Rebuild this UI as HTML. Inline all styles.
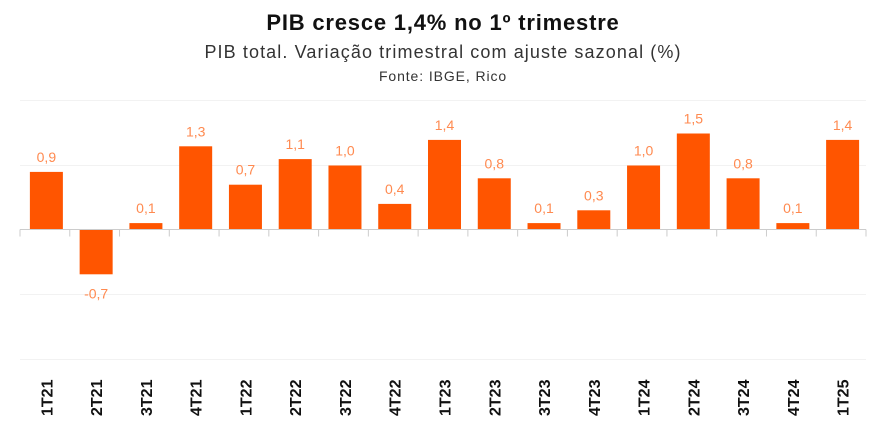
<!DOCTYPE html>
<html><head><meta charset="utf-8"><style>body{margin:0;background:#fff}svg{display:block}</style></head><body>
<svg width="886" height="428" xmlns="http://www.w3.org/2000/svg" font-family="Liberation Sans, sans-serif">
<text x="443" y="30" text-anchor="middle" font-size="22" font-weight="bold" fill="#111" letter-spacing="0.8">PIB cresce 1,4% no 1º trimestre</text>
<text x="443" y="58" text-anchor="middle" font-size="18" fill="#333" letter-spacing="1.1">PIB total. Variação trimestral com ajuste sazonal (%)</text>
<text x="443" y="81" text-anchor="middle" font-size="14" fill="#333" letter-spacing="0.9">Fonte: IBGE, Rico</text>
<g stroke="#f2f2f2" stroke-width="1">
<line x1="20" x2="866" y1="100.5" y2="100.5"/><line x1="20" x2="866" y1="165.5" y2="165.5"/>
<line x1="20" x2="866" y1="294.5" y2="294.5"/><line x1="20" x2="866" y1="359.5" y2="359.5"/>
</g>
<g id="bars"></g>
<line x1="20" x2="866" y1="229.5" y2="229.5" stroke="#ccc"/>
<g id="ticks" stroke="#ccc"></g>
<g id="labels"></g>
<script>
var v=[0.9,-0.7,0.1,1.3,0.7,1.1,1.0,0.4,1.4,0.8,0.1,0.3,1.0,1.5,0.8,0.1,1.4];
var n=["1T21","2T21","3T21","4T21","1T22","2T22","3T22","4T22","1T23","2T23","3T23","4T23","1T24","2T24","3T24","4T24","1T25"];
var s=(866-20)/17,sc=64,z=229.5,ns="http://www.w3.org/2000/svg";
function el(t,a,p,txt){var e=document.createElementNS(ns,t);for(var k in a)e.setAttribute(k,a[k]);if(txt)e.textContent=txt;document.getElementById(p).appendChild(e);}
for(var i=0;i<17;i++){var x0=20+i*s,cx=x0+s/2+1.5,h=Math.abs(v[i])*sc;
el("rect",{x:cx-16.5,y:v[i]>=0?z-h:z,width:33,height:h,fill:"#ff5500"},"bars");
el("text",{x:cx,y:v[i]>=0?z-h-10:z+h+24,"text-anchor":"middle","font-size":14,fill:"#ff8a50"},"labels",v[i].toFixed(1).replace(".",","));
el("text",{transform:"translate("+(cx+6)+",416) rotate(-90)","font-size":16,"font-weight":"bold",fill:"#111"},"labels",n[i]);
el("line",{x1:x0,x2:x0,y1:z,y2:z+7},"ticks");}
el("line",{x1:866,x2:866,y1:z,y2:z+7},"ticks");
</script>
</svg>
</body></html>
